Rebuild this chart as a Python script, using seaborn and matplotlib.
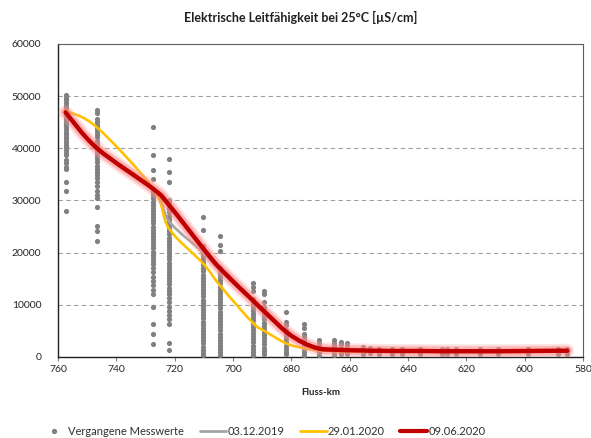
import numpy as np
import pandas as pd
import matplotlib
matplotlib.use("Agg")
import matplotlib.pyplot as plt
import seaborn as sns
from matplotlib.path import Path
from matplotlib.patches import PathPatch
from matplotlib.lines import Line2D

# Messstellen (Fluss-km)
station_km = [757.4, 746.6, 727.3, 721.9, 710.2, 704.3, 693.3, 689.2, 681.7, 675.8,
              670.4, 665.2, 662.9, 660.8, 655.3, 653.1, 650.0, 645.5, 642.1, 636.0,
              628.5, 626.7, 623.6, 615.2, 609.1, 598.9, 588.7, 585.4]

# Vergangene Messwerte je Messstelle
past_757 = [50200, 49700, 49200, 48700, 48200, 47700, 47200, 46700, 46200, 45700, 45200,
            44700, 44200, 43700, 43200, 42700, 42200, 41700, 41200, 40700, 40200, 39700,
            39200, 38700, 37700, 37100, 36500, 36000, 33600, 31900, 28000]
past_747 = [47300, 46700, 45700, 45100, 44500, 43900, 43300, 42700, 42100, 41500, 40900,
            40300, 39700, 39100, 38500, 37900, 37300, 36700, 36100, 35500, 34900, 34300,
            33500, 32700, 31800, 31000, 30400, 28800, 25200, 24200, 22300]
past_727 = [44000, 38700, 35800, 34200, 32200, 31600, 31000, 30400, 29800, 29200, 28600,
            28000, 27400, 26800, 26200, 25600, 25000, 24400, 23800, 23200, 22600, 22000,
            21400, 20800, 20200, 19600, 19000, 18400, 17800, 17100, 16200, 15400, 14600,
            13800, 12900, 12000, 9600, 6400, 4500, 2500]
past_722 = [38000, 35400, 33600, 30100, 29500, 28900, 28300, 27700, 27100, 26500, 25900,
            25300, 24700, 24100, 23500, 22900, 22300, 21700, 21100, 20500, 19900, 19300,
            18700, 18100, 17500, 16900, 16300, 15700, 15100, 14500, 13900, 13300, 12700,
            12100, 11400, 10600, 9600, 8800, 8000, 7200, 6300, 2700, 1400]
past_710 = [26800, 24300, 21200, 20600, 20000, 19400, 18800, 18200, 17600, 17000, 16400,
            15800, 15200, 14600, 14000, 13400, 12800, 12200, 11600, 11000, 10400, 9800,
            9200, 8600, 8000, 7400, 6800, 6200, 5600, 5000, 4400, 3800, 3200, 2600, 2000,
            1400, 800, 300]
past_704 = [23100, 21500, 20400, 17100, 16500, 15900, 15300, 14700, 14100, 13500, 12900,
            12300, 11700, 11100, 10500, 9900, 9300, 8700, 8100, 7500, 6900, 6300, 5700,
            5100, 4500, 3900, 3300, 2700, 2100, 1500, 900, 300]
past_693 = [14100, 13500, 12700, 11200, 10600, 10000, 9400, 8800, 8200, 7600, 7000, 6400,
            5800, 5200, 4600, 4000, 3400, 2800, 2200, 1600, 1000, 400]
past_689 = [12600, 12100, 10600, 9600, 9000, 8400, 7800, 7200, 6600, 6000, 5400, 4800,
            4200, 3600, 3000, 2400, 1800, 1200, 600]
past_682 = [8600, 6800, 6100, 5200, 4600, 4000, 3400, 2800, 2200, 1600, 1000, 500]
past_676 = [6300, 5500, 4500, 3900, 3300, 2700, 2100, 1500, 900, 400]
past_670 = [3300, 2700, 2100, 1500, 900, 400]
past_665 = [3300, 2700, 2100, 1500, 900, 400]
past_663 = [2900, 2400, 1800, 1200, 600]
past_661 = [2700, 2200, 1600, 1000, 500]
past_655 = [2000, 1500, 1000, 600]
past_653 = [1800, 1300, 800]
past_downstream = [1600, 1100, 600]   # km 650 bis 585

# Messfahrten
run_2019_12 = [46900, 40000, 32200, 26000, 20000, 16500, 10700, 8400, 4700, 2800,
               1500, 1300, 1250, 1200, 1150, 1150, 1100, 1100, 1100, 1100,
               1100, 1100, 1100, 1100, 1100, 1150, 1200, 1200]
run_2020_01 = [47200, 44000, 32200, 24600, 17900, 13600, 6600, 5000, 2600, 1700,
               1300, 1150, 1100, 1100, 1050, 1050, 1050, 1050, 1050, 1050,
               1050, 1050, 1050, 1050, 1050, 1100, 1100, 1100]
run_2020_06 = [46900, 40000, 32200, 29100, 20800, 16900, 10900, 8700, 4800, 2700,
               1600, 1400, 1350, 1300, 1250, 1200, 1200, 1150, 1150, 1150,
               1100, 1100, 1100, 1100, 1100, 1150, 1200, 1200]

past_values = [past_757, past_747, past_727, past_722, past_710, past_704, past_693,
               past_689, past_682, past_676, past_670, past_665, past_663, past_661,
               past_655, past_653] + [past_downstream] * 12

rows = []
for km, vals in zip(station_km, past_values):
    for v in vals:
        rows.append((km, v))
df_past = pd.DataFrame(rows, columns=["km", "wert"])

sns.set_style("white")
plt.rcParams["font.family"] = ["Lato", "DejaVu Sans"]

fig = plt.figure(figsize=(5.91, 4.38), dpi=100)
ax = fig.add_axes([58 / 591, 1 - 357 / 438, (583 - 58) / 591, (357 - 44) / 438])

sns.scatterplot(data=df_past, x="km", y="wert", ax=ax, color="#808080", s=14,
                linewidth=0, legend=False, zorder=3)


# geglaettete Linie wie in Excel (Bezier durch die Messpunkte)
def smooth_line(ax, xs, ys, **kw):
    pts = np.column_stack([xs, ys]).astype(float)
    n = len(pts)
    verts = [pts[0]]
    codes = [Path.MOVETO]
    for i in range(n - 1):
        p0 = pts[i - 1] if i > 0 else pts[i]
        p3 = pts[i + 2] if i + 2 < n else pts[i + 1]
        c1 = pts[i] + (pts[i + 1] - p0) / 6
        c2 = pts[i + 1] - (p3 - pts[i]) / 6
        verts += [c1, c2, pts[i + 1]]
        codes += [Path.CURVE4] * 3
    patch = PathPatch(Path(verts, codes), fill=False, capstyle="round",
                      joinstyle="round", **kw)
    ax.add_patch(patch)


smooth_line(ax, station_km, run_2019_12, edgecolor="#A5A5A5", lw=1.9, zorder=4)
smooth_line(ax, station_km, run_2020_01, edgecolor="#FFC000", lw=1.9, zorder=4)
# Glow um die rote Linie
smooth_line(ax, station_km, run_2020_06, edgecolor="#FFA0A0", lw=10, alpha=0.3, zorder=5)
smooth_line(ax, station_km, run_2020_06, edgecolor="#FF8080", lw=7, alpha=0.45, zorder=5)
smooth_line(ax, station_km, run_2020_06, edgecolor="#C00000", lw=3.2, zorder=6)

ax.set_xlim(760, 580)
ax.set_ylim(0, 60000)
ax.set_xticks(np.arange(760, 579, -20))
ax.set_yticks(np.arange(0, 60001, 10000))
ax.tick_params(axis="x", length=3, width=0.8, color="#808080", labelsize=7.5, pad=3,
               direction="out", bottom=True)
ax.tick_params(axis="y", length=0, labelsize=7.5, pad=12)
for lab in ax.get_xticklabels() + ax.get_yticklabels():
    lab.set_color("#262626")

ax.yaxis.grid(True, linestyle=(0, (4, 3)), color="#A0A0A0", lw=0.8)
ax.xaxis.grid(False)
ax.set_axisbelow(True)
for side in ["left", "bottom"]:
    ax.spines[side].set_color("#202020")
    ax.spines[side].set_linewidth(1.0)
for side in ["top", "right"]:
    ax.spines[side].set_color("#606060")
    ax.spines[side].set_linewidth(0.8)

ax.set_xlabel("Fluss-km", fontsize=7, fontweight="bold", labelpad=10)
ax.set_ylabel("")
fig.text(0.508, 0.96, "Elektrische Leitfähigkeit bei 25°C [µS/cm]", ha="center",
         va="center", fontsize=9, fontweight="bold", color="#202020")

handles = [
    Line2D([], [], marker="o", linestyle="none", color="#808080", markersize=2.8),
    Line2D([], [], color="#A5A5A5", lw=2),
    Line2D([], [], color="#FFC000", lw=2),
    Line2D([], [], color="#C00000", lw=3),
]
labels = ["Vergangene Messwerte", "03.12.2019", "29.01.2020", "09.06.2020"]
fig.legend(handles, labels, loc="center", bbox_to_anchor=(0.445, 0.014), ncol=4,
           frameon=False, fontsize=8, handlelength=2.4, handletextpad=0.1,
           columnspacing=1.4, labelcolor="#303030")

fig.savefig("out.png", dpi=100)
